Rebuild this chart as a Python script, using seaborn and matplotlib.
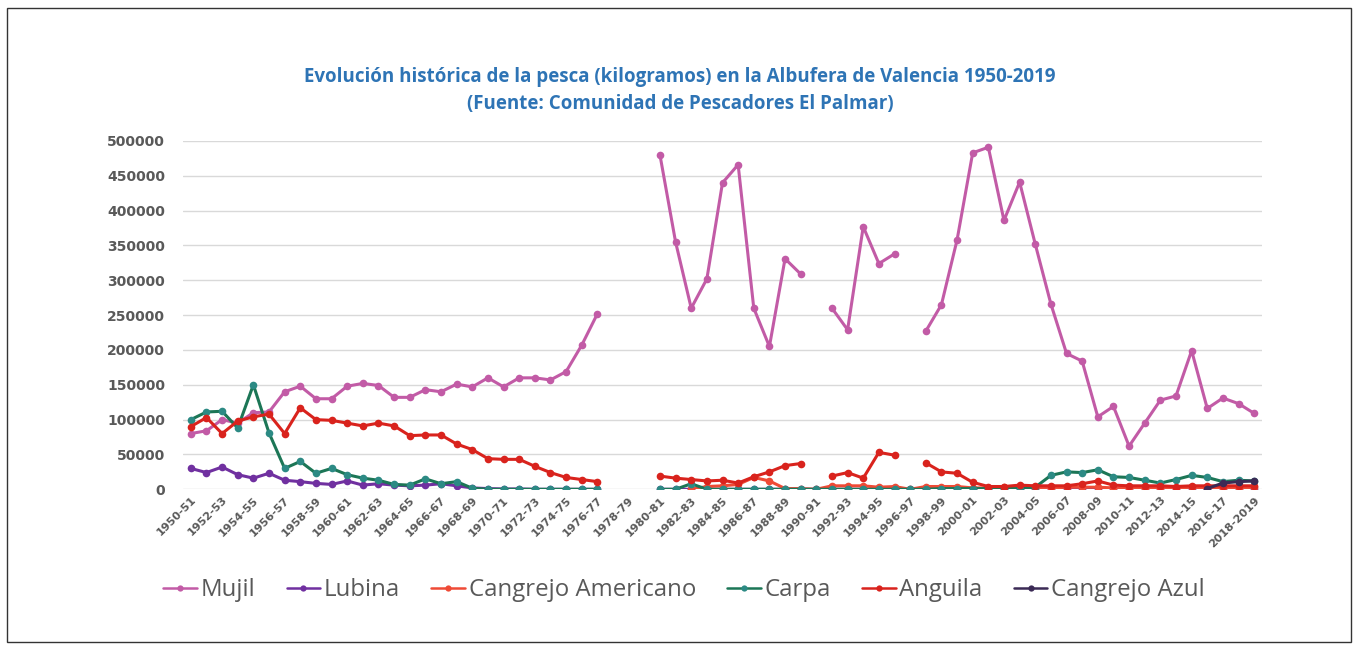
import numpy as np
import pandas as pd
import matplotlib
matplotlib.use("Agg")
import matplotlib.pyplot as plt
from matplotlib.lines import Line2D
from matplotlib.patches import Rectangle
import seaborn as sns

N = None
seasons = [f"{y}-{(y + 1) % 100:02d}" for y in range(1950, 2018)] + ["2018-2019"]

mujil = [80000, 84000, 100000, 95000, 110000, 111000, 140000, 148000, 130000, 130000,
         148000, 152000, 149000, 132000, 132000, 143000, 140000, 151000, 147000, 160000,
         147000, 160000, 160000, 157000, 169000, 207000, 252000, N, N, N,
         480000, 355000, 260000, 302000, 440000, 466000, 260000, 205000, 331000, 309000,
         N, 260000, 229000, 377000, 324000, 338000, N, 227000, 265000, 358000,
         483000, 491000, 386000, 441000, 352000, 266000, 195000, 184000, 104000, 119000,
         62000, 95000, 128000, 134000, 199000, 116000, 131000, 123000, 109000]

lubina = [30000, 24000, 32000, 21000, 16000, 23000, 13000, 11000, 8500, 7000,
          12000, 6000, 8000, 6000, 5000, 6000, 8000, 5000, 2000, 1000,
          500, 500, 0, 0, 0, 0, 0, N, N, N,
          0, 0, 0, 0, 0, 0, 0, 0, 0, 0,
          0, 0, 0, 0, 0, 0, 0, 0, 0, 0,
          0, 0, 0, 0, 0, 1000, 1000, 1000, 1000, 1000,
          1000, 1000, 1000, 1000, 1000, 1000, 1000, 1000, 1000]

cangrejo_americano = [N] * 32 + [0, 4000, 5000, 7000, 17000, 12000, 1000, 1000,
                                 0, 5000, 5000, 5000, 3000, 4000, 0, 4000, 4000, 4000,
                                 2000, 2000, 3000, 3000, 2000, 2000, 3000, 3000, 3000, 2000,
                                 2000, 2000, 2000, 2000, 3000, 2000, 2000, 2000, 3000]

carpa = [100000, 111000, 112000, 88000, 150000, 81000, 30000, 40000, 23000, 30000,
         21000, 16000, 13000, 7000, 6000, 15000, 8000, 11000, 1500, 0,
         0, 0, 0, 0, 0, 0, 0, N, N, N,
         0, 0, 8000, 0, 0, 0, 0, 0, 0, 0,
         0, 0, 0, 0, 0, 0, 0, 0, 1000, 1000,
         1000, 1000, 1000, 1000, 3000, 20000, 25000, 24000, 28000, 18000,
         17000, 13000, 9000, 14000, 20000, 17000, 11000, 13000, 12000]

anguila = [90000, 103000, 80000, 98000, 104000, 108000, 80000, 117000, 100000, 99000,
           95000, 91000, 95000, 91000, 77000, 78000, 78000, 65000, 57000, 44000,
           43000, 43000, 33000, 24000, 17000, 14000, 11000, N, N, N,
           19000, 16000, 14000, 12000, 13000, 9000, 18000, 25000, 34000, 37000,
           N, 19000, 24000, 16000, 53000, 49000, N, 38000, 25000, 23000,
           10000, 4000, 4000, 6000, 5000, 5000, 5000, 8000, 12000, 6000,
           5000, 5000, 5000, 4000, 5000, 5000, 5000, 5000, 5000]

cangrejo_azul = [N] * 65 + [1000, 9000, 11000, 12000]

names = ["Mujil", "Lubina", "Cangrejo Americano", "Carpa", "Anguila", "Cangrejo Azul"]
series = [mujil, lubina, cangrejo_americano, carpa, anguila, cangrejo_azul]
line_colors = ["#C25BA6", "#7030A0", "#EF4A36", "#1C7656", "#D9231D", "#3B2A55"]
marker_colors = ["#C25BA6", "#7030A0", "#EF4A36", "#2C8A84", "#D9231D", "#3B2A55"]

sns.set_style("white")
plt.rcParams["font.family"] = ["DejaVu Sans"]

fig = plt.figure(figsize=(13.58, 6.5), dpi=100)
ax = fig.add_axes([183 / 1358, 1 - 489.3 / 650, (1262 - 183) / 1358, (489.3 - 141) / 650])

for k, (name, vals) in enumerate(zip(names, series)):
    v = pd.Series(vals, dtype="float")
    seg = v.isna().cumsum()
    df = pd.DataFrame({"idx": np.arange(len(v)), "value": v, "seg": seg}).dropna()
    sns.lineplot(data=df, x="idx", y="value", units="seg", estimator=None, ax=ax,
                 color=line_colors[k], lw=2.2, marker="o", markersize=5.5,
                 markerfacecolor=marker_colors[k], markeredgecolor=marker_colors[k],
                 markeredgewidth=0, legend=False, sort=False, zorder=3 + k)

ax.set_xlim(-0.5, len(seasons) - 0.5)
ax.set_ylim(0, 500000)
ax.set_yticks(np.arange(0, 500001, 50000))
ax.set_yticklabels([str(int(t)) for t in np.arange(0, 500001, 50000)])
ax.set_xticks(np.arange(0, len(seasons), 2))
ax.set_xticklabels(seasons[::2], rotation=45, ha="right", rotation_mode="anchor")
ax.tick_params(axis="y", length=0, pad=13, labelsize=10, labelcolor="#595959")
ax.tick_params(axis="x", length=0, pad=4, labelsize=8, labelcolor="#595959")
for lab in ax.get_yticklabels() + ax.get_xticklabels():
    lab.set_fontweight("bold")
ax.set_xlabel("")
ax.set_ylabel("")
ax.yaxis.grid(True, color="#D9D9D9", lw=1)
ax.xaxis.grid(False)
for s in ax.spines.values():
    s.set_visible(False)

fig.text(680 / 1358, 1 - 77 / 650,
         "Evolución histórica de la pesca (kilogramos) en la Albufera de Valencia 1950-2019",
         ha="center", va="center", fontsize=13.5, fontweight="bold", color="#2E74B5",
         family=["Open Sans", "DejaVu Sans"])
fig.text(680 / 1358, 1 - 104 / 650, "(Fuente: Comunidad de Pescadores El Palmar)",
         ha="center", va="center", fontsize=13.5, fontweight="bold", color="#2E74B5",
         family=["Open Sans", "DejaVu Sans"])

handles = [Line2D([0], [0], color=line_colors[k], lw=1.8, marker="o", markersize=4.5,
                  markerfacecolor=marker_colors[k], markeredgewidth=0) for k in range(len(names))]
leg = fig.legend(handles, names, loc="center", bbox_to_anchor=(684 / 1358, 1 - 590 / 650),
                 ncol=6, frameon=False, handlelength=1.4, handletextpad=0.15,
                 columnspacing=1.3, prop={"family": "Open Sans", "size": 17.3})
for t in leg.get_texts():
    t.set_color("#595959")

fig.patches.append(Rectangle((7 / 1358, 1 - 642 / 650), (1351 - 7) / 1358, (642 - 8) / 650,
                             transform=fig.transFigure, fill=False, edgecolor="#333333", lw=1))

fig.savefig("out.png", dpi=100)
